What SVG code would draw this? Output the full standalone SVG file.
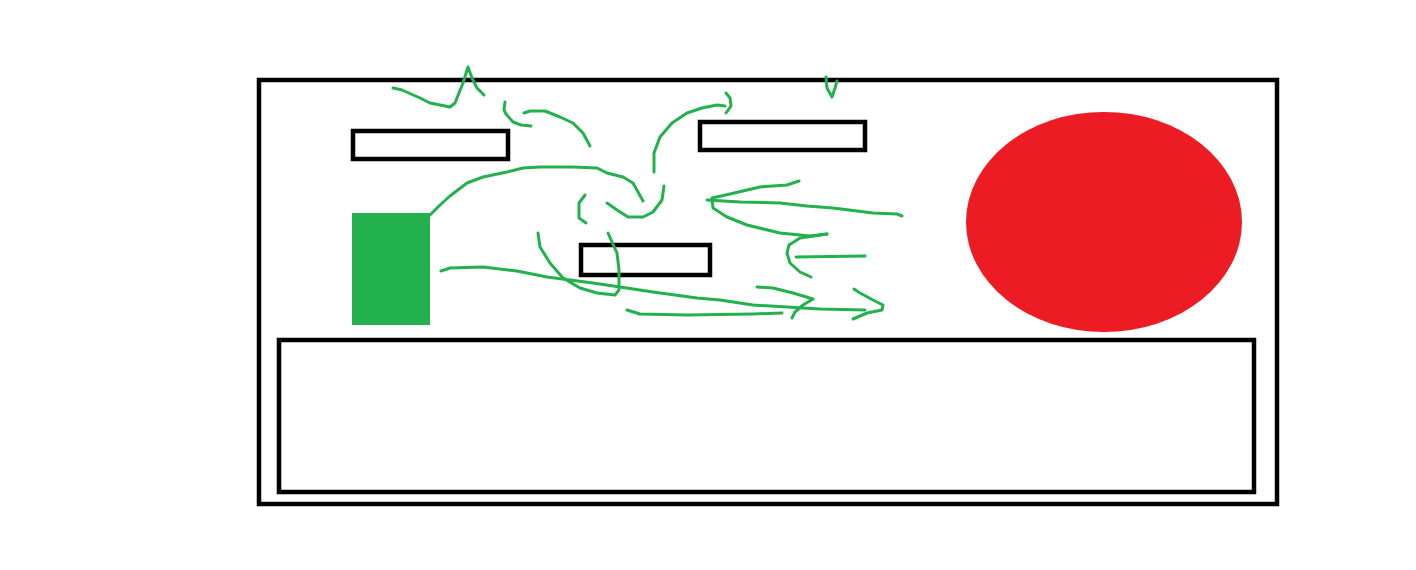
<svg xmlns="http://www.w3.org/2000/svg" width="1416" height="570" viewBox="0 0 1416 570">
<style>
.box{fill:none;stroke:#000;stroke-width:4.5}
.g{fill:none;stroke:#22b14c;stroke-width:3;stroke-linecap:round;stroke-linejoin:round}
</style>
<rect width="1416" height="570" fill="#fff"/>
<g id="frame"><rect class="box" x="259" y="80" width="1018" height="424"/></g>
<g id="box1"><rect class="box" x="353" y="131" width="155" height="28"/></g>
<g id="box2"><rect class="box" x="700" y="122" width="165" height="28"/></g>
<g id="box3"><rect class="box" x="581" y="245" width="129" height="30"/></g>
<g id="bottom-box"><rect class="box" x="279" y="340" width="975" height="152"/></g>
<g id="green-square"><rect x="352" y="213" width="78" height="112" fill="#22b14c"/></g>
<g id="red-circle"><ellipse cx="1104" cy="222" rx="138" ry="110" fill="#ed1c24"/></g>
<g id="connectors">
<path class="g" d="M393,88 L402,90 L420,98 L430,103 L450,107 L455,103 L463,83 L468,67 L472,78 L477,88 L484,95"/>
<path class="g" d="M505,102 L504,110 L506,114 L513,122 L521,125 L531,126"/>
<path class="g" d="M524,113 L530,111 L545,111 L560,117 L573,123 L583,133 L590,146"/>
<path class="g" d="M430,215 L440,205 L450,196 L467,183 L483,177 L507,172 L523,168 L540,167 L573,167 L597,168 L607,173 L623,177 L633,183 L638,192 L643,201"/>
<path class="g" d="M585,195 L579,203 L579,218 L586,223"/>
<path class="g" d="M607,203 L617,210 L628,217 L643,217 L653,212 L662,200 L664,186"/>
<path class="g" d="M654,172 L654,153 L660,137 L672,123 L687,113 L702,108 L717,105 L725,106"/>
<path class="g" d="M726,93 L730,98 L731,106 L726,113"/>
<path class="g" d="M826,77 L827,88 L832,97 L835,88 L837,81"/>
<path class="g" d="M707,200 L740,202 L780,203 L807,206 L833,208 L873,213 L897,214 L902,216"/>
<path class="g" d="M712,198 L730,194 L760,187 L787,185 L799,181"/>
<path class="g" d="M712,200 L713,208 L727,217 L747,225 L780,233 L810,236 L827,234"/>
<path class="g" d="M827,234 L807,237 L800,238 L789,245 L787,253 L790,263 L800,272 L811,277"/>
<path class="g" d="M796,257 L865,256"/>
<path class="g" d="M441,271 L450,268 L483,267 L517,271 L547,277 L570,280 L593,283 L620,287 L653,292 L697,298 L720,300 L753,305 L787,307 L820,309 L865,310"/>
<path class="g" d="M854,289 L860,293 L873,300 L883,305 L882,310 L867,313 L853,319"/>
<path class="g" d="M757,287 L773,288 L793,293 L813,299 L803,305 L795,312 L792,318"/>
<path class="g" d="M627,310 L640,314 L687,315 L753,314 L782,313"/>
<path class="g" d="M538,233 L540,247 L550,263 L563,278 L580,288 L597,293 L615,295 L619,290 L619,270 L617,253 L608,233"/>
</g>
</svg>
